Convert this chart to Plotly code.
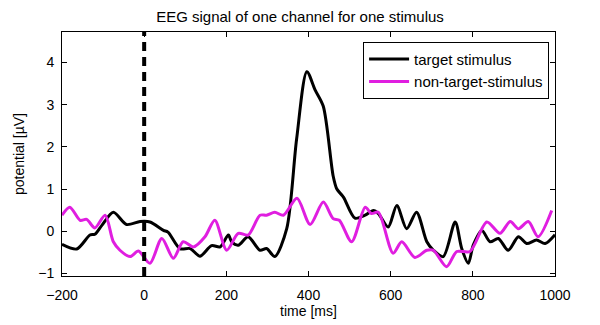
import plotly.graph_objects as go

# Averaged EEG response, one channel (time in ms, potential in µV)
target_t = [-200, -164, -132, -120, -103, -75, -43, -10, 14, 47, 58, 87, 112, 136, 164, 185,
            205, 213, 229, 253, 282, 298, 318, 347, 371, 396, 416, 436, 460, 469, 485, 513,
            538, 558, 570, 594, 615, 639, 663, 688, 704, 728, 757, 773, 789, 801, 822, 842,
            862, 886, 911, 931, 955, 976, 1000]
target_v = [-0.31, -0.42, -0.09, -0.07, 0.14, 0.45, 0.16, 0.23, 0.22, 0.02, -0.02, -0.41, -0.41,
            -0.59, -0.34, -0.37, -0.09, -0.25, -0.33, -0.13, -0.45, -0.41, -0.6, 0.06, 2.18, 3.78,
            3.35, 2.96, 1.31, 1.0, 0.81, 0.31, 0.38, 0.49, 0.42, 0.1, 0.61, 0.06, 0.45, -0.25,
            -0.45, -0.6, 0.22, -0.41, -0.76, -0.33, 0.02, -0.25, -0.17, -0.45, -0.13, -0.29,
            -0.21, -0.29, -0.08]

nontarget_t = [-200, -181, -156, -140, -120, -95, -75, -59, -34, -14, 14, 43, 71, 95, 120, 148,
               172, 201, 229, 253, 282, 298, 318, 339, 372, 404, 436, 460, 475, 505, 538, 553,
               570, 606, 627, 659, 688, 704, 736, 761, 793, 834, 866, 891, 911, 935, 959, 992]
nontarget_v = [0.38, 0.57, 0.26, 0.28, 0.08, 0.38, -0.25, -0.45, -0.6, -0.47, -0.76, -0.17,
               -0.64, -0.25, -0.37, -0.13, 0.26, -0.45, -0.05, -0.09, 0.38, 0.38, 0.45, 0.38,
               0.78, 0.16, 0.69, 0.3, 0.26, -0.25, 0.57, 0.42, 0.45, -0.52, -0.25, -0.62, -0.45,
               -0.45, -0.84, -0.48, -0.48, 0.22, -0.05, 0.23, 0.06, 0.23, -0.13, 0.49]

onset_ms = 0
x_range = [-200, 1000]
y_range = [-1.06, 4.72]
x_ticks = [-200, 0, 200, 400, 600, 800, 1000]
y_ticks = [-1, 0, 1, 2, 3, 4]

font = "Arial, Liberation Sans, sans-serif"

fig = go.Figure()
fig.add_trace(go.Scatter(
    x=target_t, y=target_v, mode="lines", name="target stimulus",
    line=dict(color="black", width=3, shape="spline", smoothing=0.8),
))
fig.add_trace(go.Scatter(
    x=nontarget_t, y=nontarget_v, mode="lines", name="non-target-stimulus",
    line=dict(color="#e01ee0", width=3, shape="spline", smoothing=0.8),
))

# stimulus onset marker
fig.add_shape(type="line", xref="x", yref="paper", x0=onset_ms, x1=onset_ms, y0=0, y1=1,
              line=dict(color="black", width=4, dash="9px,6px"), layer="above")

axis_common = dict(
    showline=True, linecolor="black", linewidth=1, mirror="ticks",
    ticks="inside", ticklen=5, tickcolor="black", showgrid=False, zeroline=False,
    tickfont=dict(family=font, size=14, color="black"),
)

fig.update_layout(
    width=600, height=325,
    margin=dict(l=62, r=45, t=32, b=47),
    paper_bgcolor="white", plot_bgcolor="white",
    title=dict(text="EEG signal of one channel for one stimulus", x=0.5, xanchor="center",
               y=1 - 17 / 325, yanchor="middle",
               font=dict(family=font, size=15, color="black")),
    xaxis=dict(range=x_range, tickvals=x_ticks, ticklabelstandoff=6, **axis_common,
               title=dict(text="time [ms]", font=dict(family=font, size=14, color="black"),
                          standoff=0)),
    yaxis=dict(range=y_range, tickvals=y_ticks, ticklabelstandoff=4, **axis_common,
               title=dict(text="potential [µV]", font=dict(family=font, size=14, color="black"),
                          standoff=10)),
    legend=dict(x=0.988, y=0.96, xanchor="right", yanchor="top",
                bordercolor="black", borderwidth=1, bgcolor="white",
                font=dict(family=font, size=15, color="black"),
                tracegroupgap=0, itemwidth=40),
    showlegend=True,
)

fig.write_html("out.html")
